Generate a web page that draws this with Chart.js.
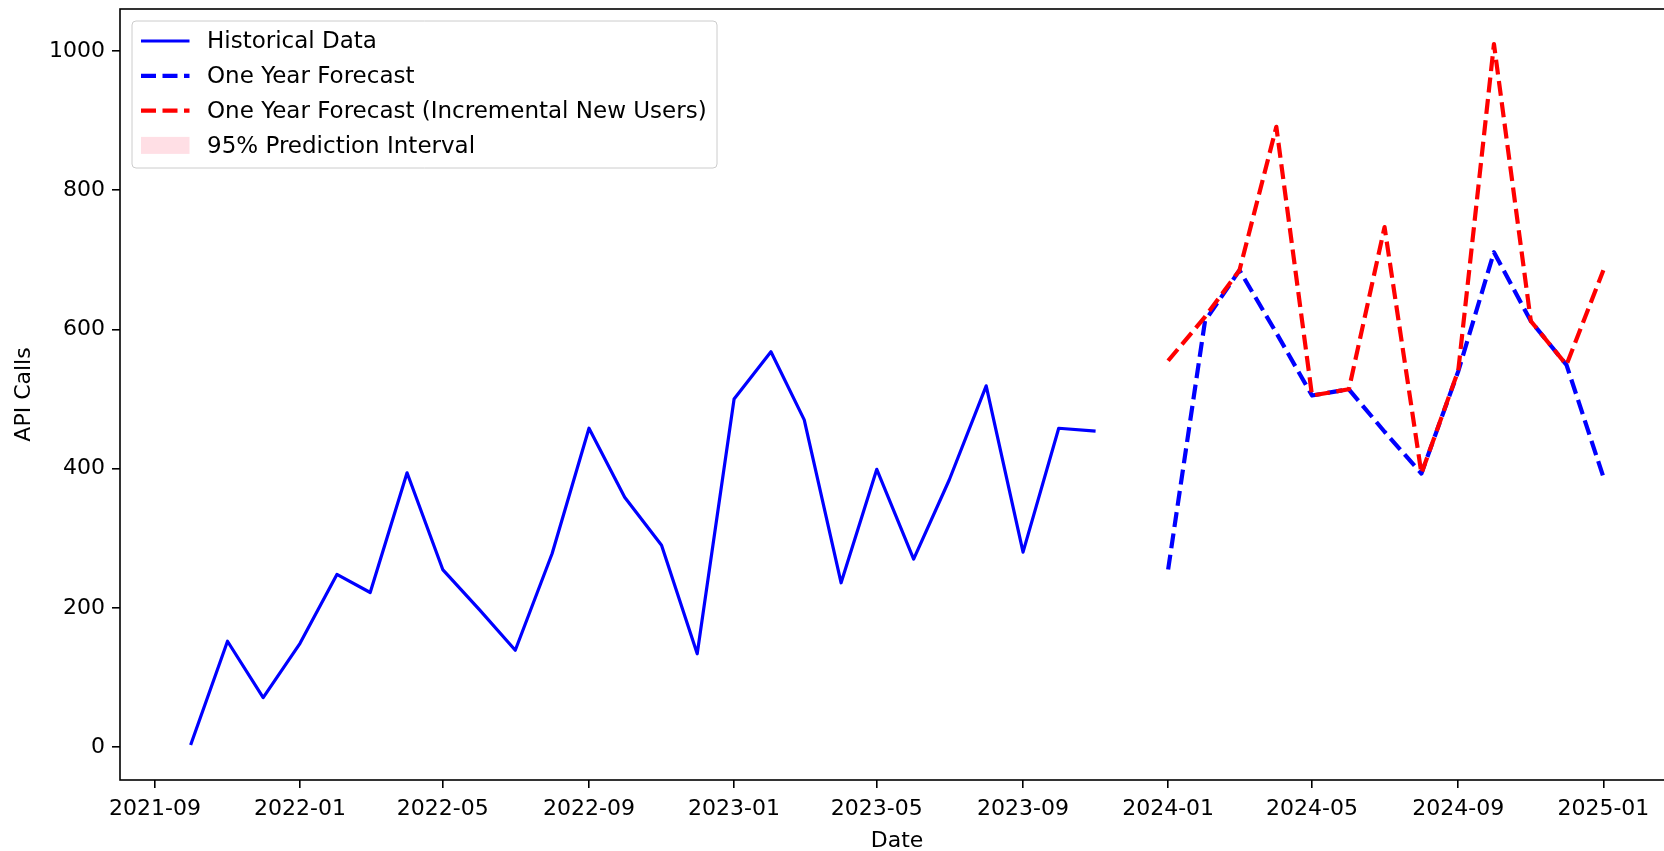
<!DOCTYPE html>
<html>
<head>
<meta charset="utf-8">
<script src="https://cdn.jsdelivr.net/npm/chart.js@4.4.1/dist/chart.umd.min.js"></script>
<style>
  html, body { margin: 0; padding: 0; background: #fff; overflow: hidden; }
  #chart { display: block; }
</style>
</head>
<body>
<canvas id="chart" width="1680" height="851"></canvas>
<script>
// Monthly API calls
const histMonths = ['2021-10', '2021-11', '2021-12', '2022-01', '2022-02', '2022-03', '2022-04', '2022-05',
    '2022-06', '2022-07', '2022-08', '2022-09', '2022-10', '2022-11', '2022-12', '2023-01', '2023-02',
    '2023-03', '2023-04', '2023-05', '2023-06', '2023-07', '2023-08', '2023-09', '2023-10', '2023-11'];
const histValues = [3, 152, 71, 149, 248, 222, 394, 255, 197, 139, 278, 458, 359, 290, 134, 500, 568,
    470, 236, 399, 270, 384, 519, 280, 458, 454];

const forecastMonths = ['2024-01', '2024-02', '2024-03', '2024-04', '2024-05', '2024-06', '2024-07',
    '2024-08', '2024-09', '2024-10', '2024-11', '2024-12', '2025-01'];
const forecastValues = [255, 612, 685, 595, 505, 514, 453, 393, 540, 711, 612, 549, 388];
const incrementalValues = [555, 618, 685, 891, 505, 514, 747, 393, 541, 1010, 612, 549, 685];

const xTickLabels = ['2021-09', '2022-01', '2022-05', '2022-09', '2023-01', '2023-05', '2023-09',
    '2024-01', '2024-05', '2024-09', '2025-01'];
const yTicks = [0, 200, 400, 600, 800, 1000];

const FONT = 'DejaVu Sans';
Chart.defaults.font.family = FONT;
Chart.defaults.color = '#000';

function monthToTime(m) {
    const [y, mo] = m.split('-').map(Number);
    return Date.UTC(y, mo - 1, 1);
}

function toPoints(months, values) {
    return months.map((m, i) => ({ x: monthToTime(m), y: values[i] }));
}

// matplotlib style 5% margins around the data
const allTimes = histMonths.concat(forecastMonths).map(monthToTime);
const allValues = histValues.concat(forecastValues, incrementalValues);
const tMin = Math.min(...allTimes), tMax = Math.max(...allTimes);
const vMin = Math.min(...allValues), vMax = Math.max(...allValues);
const xMin = tMin - 0.05 * (tMax - tMin);
const xMax = tMax + 0.05 * (tMax - tMin);
const yMin = vMin - 0.05 * (vMax - vMin);
const yMax = vMax + 0.05 * (vMax - vMin);

// axes box with all four spines
const framePlugin = {
    id: 'frame',
    afterDatasetsDraw(chart) {
        const { ctx, chartArea } = chart;
        ctx.save();
        ctx.strokeStyle = '#000';
        ctx.lineWidth = 1.6;
        ctx.strokeRect(chartArea.left, chartArea.top, chartArea.right - chartArea.left, chartArea.bottom - chartArea.top);
        ctx.restore();
    }
};

// boxed legend in the upper left corner of the axes
const legendPlugin = {
    id: 'boxLegend',
    afterDraw(chart) {
        const { ctx, chartArea } = chart;
        const x0 = chartArea.left + 12;
        const y0 = chartArea.top + 12;
        const w = 585;
        const h = 147;
        const rowH = 34.8;

        ctx.save();
        ctx.beginPath();
        ctx.roundRect(x0, y0, w, h, 4);
        ctx.fillStyle = 'rgba(255, 255, 255, 0.8)';
        ctx.fill();
        ctx.strokeStyle = '#cccccc';
        ctx.lineWidth = 1;
        ctx.stroke();

        ctx.font = '23px "' + FONT + '"';
        ctx.textBaseline = 'middle';
        ctx.textAlign = 'left';

        chart.data.datasets.forEach((ds, i) => {
            const cy = y0 + 20 + i * rowH;
            const hx = x0 + 9;
            if (ds.legendPatch) {
                ctx.fillStyle = ds.backgroundColor;
                ctx.fillRect(hx, cy - 8.5, 48.5, 17);
            } else {
                ctx.strokeStyle = ds.borderColor;
                ctx.lineWidth = ds.borderWidth;
                ctx.setLineDash(ds.borderDash || []);
                ctx.beginPath();
                ctx.moveTo(hx, cy);
                ctx.lineTo(hx + 48.5, cy);
                ctx.stroke();
                ctx.setLineDash([]);
            }
            ctx.fillStyle = '#000';
            ctx.fillText(ds.label, x0 + 75, cy + 1.5);
        });
        ctx.restore();
    }
};

const ctx = document.getElementById('chart').getContext('2d');
new Chart(ctx, {
    type: 'line',
    data: {
        datasets: [
            {
                label: 'Historical Data',
                data: toPoints(histMonths, histValues),
                borderColor: '#0000ff',
                borderWidth: 3.2,
                order: 3
            },
            {
                label: 'One Year Forecast',
                data: toPoints(forecastMonths, forecastValues),
                borderColor: '#0000ff',
                borderWidth: 4.2,
                borderDash: [15, 6.5],
                order: 2
            },
            {
                label: 'One Year Forecast (Incremental New Users)',
                data: toPoints(forecastMonths, incrementalValues),
                borderColor: '#ff0000',
                borderWidth: 4.2,
                borderDash: [15, 6.5],
                order: 1
            },
            {
                label: '95% Prediction Interval',
                data: [],
                backgroundColor: 'rgba(255, 192, 203, 0.5)',
                borderColor: 'rgba(255, 192, 203, 0.5)',
                borderWidth: 0,
                legendPatch: true,
                order: 4
            }
        ]
    },
    options: {
        responsive: false,
        animation: false,
        layout: { padding: { top: 9, right: 6, bottom: 0, left: 0 } },
        elements: {
            point: { radius: 0, hoverRadius: 0 },
            line: { tension: 0, fill: false, borderJoinStyle: 'round' }
        },
        plugins: {
            legend: { display: false },
            tooltip: { enabled: false }
        },
        scales: {
            x: {
                type: 'linear',
                min: xMin,
                max: xMax,
                afterBuildTicks: (scale) => {
                    scale.ticks = xTickLabels.map(m => ({ value: monthToTime(m) }));
                },
                afterFit: (scale) => {
                    scale.height = 71;
                    scale.paddingLeft = 0;
                    scale.paddingRight = 0;
                },
                ticks: {
                    callback: (value, index) => xTickLabels[index],
                    autoSkip: false,
                    maxRotation: 0,
                    minRotation: 0,
                    padding: 8,
                    color: '#000',
                    font: { size: 22 }
                },
                grid: { drawOnChartArea: false, drawTicks: true, tickLength: 8, color: '#000', lineWidth: 1.6 },
                border: { display: false },
                title: {
                    display: true,
                    text: 'Date',
                    color: '#000',
                    font: { size: 22, lineHeight: 1 },
                    padding: { top: 0, bottom: -1.5 }
                }
            },
            y: {
                min: yMin,
                max: yMax,
                afterBuildTicks: (scale) => {
                    scale.ticks = yTicks.map(v => ({ value: v }));
                },
                afterFit: (scale) => {
                    scale.width = 120;
                    scale.paddingTop = 0;
                    scale.paddingBottom = 0;
                },
                ticks: {
                    callback: (value) => String(value),
                    padding: 7,
                    color: '#000',
                    font: { size: 22 }
                },
                grid: { drawOnChartArea: false, drawTicks: true, tickLength: 8, color: '#000', lineWidth: 1.6 },
                border: { display: false },
                title: {
                    display: true,
                    text: 'API Calls',
                    color: '#000',
                    font: { size: 22, lineHeight: 1 },
                    padding: { top: 13, bottom: 0 }
                }
            }
        }
    },
    plugins: [framePlugin, legendPlugin]
});
</script>
</body>
</html>
